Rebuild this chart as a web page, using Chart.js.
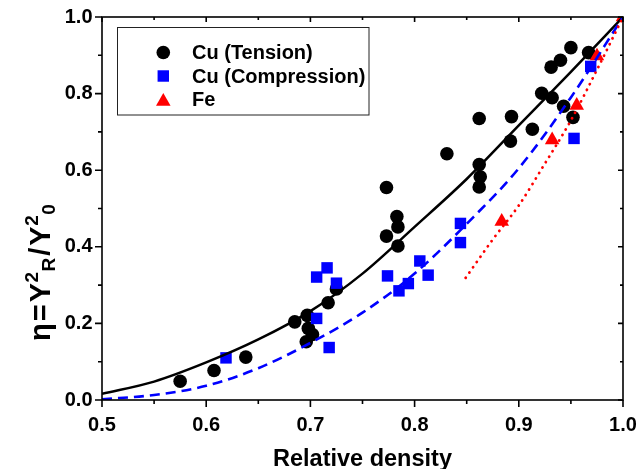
<!DOCTYPE html>
<html><head><meta charset="utf-8">
<script src="https://cdn.jsdelivr.net/npm/chart.js@4.4.0/dist/chart.umd.min.js"></script>
<style>html,body{margin:0;padding:0;background:#fff;}</style>
</head><body>
<canvas id="c" width="644" height="469"></canvas>
<script>
// ---- data ----
const tensionX = [0.575,0.6075,0.638,0.685,0.697,0.698,0.702,0.696,0.717,0.725,0.773,0.783,0.784,0.773,0.784,0.831,0.862,0.862,0.863,0.862,0.893,0.892,0.913,0.922,0.932,0.943,0.952,0.931,0.940,0.950,0.967];
const tensionY = [0.049,0.077,0.112,0.204,0.221,0.187,0.171,0.152,0.254,0.290,0.555,0.479,0.452,0.428,0.402,0.643,0.735,0.615,0.583,0.556,0.740,0.676,0.707,0.801,0.789,0.767,0.738,0.869,0.887,0.920,0.907];
const compX = [0.619,0.706,0.718,0.706,0.716,0.725,0.774,0.785,0.794,0.805,0.813,0.844,0.844,0.953,0.969];
const compY = [0.110,0.213,0.137,0.321,0.345,0.305,0.324,0.285,0.304,0.363,0.326,0.461,0.411,0.683,0.871];
const feX = [0.8836,0.932,0.9556,0.975,1.0];
const feY = [0.466,0.679,0.769,0.898,1.0];
// fitted curves
const fitTensionX = [0.5,0.55,0.6,0.65,0.7,0.75,0.8,0.85,0.9,0.95,1.0];
const fitTensionY = [0.016,0.048,0.098,0.158,0.232,0.330,0.452,0.577,0.717,0.857,1.0];
const fitCompX = [0.5,0.55,0.6,0.65,0.7,0.75,0.8,0.85,0.9,0.95,1.0];
const fitCompY = [0.002,0.013,0.037,0.083,0.149,0.228,0.330,0.460,0.605,0.790,1.0];
const fitFeX = [0.849,0.875,0.9,0.925,0.95,0.975,1.0];
const fitFeY = [0.319,0.419,0.508,0.617,0.730,0.862,1.0];
// ticks
const xMajorTicks = [0.5,0.6,0.7,0.8,0.9,1.0];
const xMinorTicks = [0.55,0.65,0.75,0.85,0.95];
const yMajorTicks = [0.0,0.2,0.4,0.6,0.8,1.0];
const yMinorTicks = [0.1,0.3,0.5,0.7,0.9];
const seriesNames = ['Cu (Tension)','Cu (Compression)','Fe'];
const xTitle = 'Relative density';

const pts = (xs, ys) => xs.map((x,i)=>({x:x, y:ys[i]}));
const FONT = '"Liberation Sans", Arial, sans-serif';

const framePlugin = {
  id:'frame',
  afterDraw(chart){
    const ctx = chart.ctx, xs = chart.scales.x, ys = chart.scales.y;
    const {left:L,right:R,top:T,bottom:B} = chart.chartArea;
    ctx.save();
    ctx.strokeStyle = '#000'; ctx.lineWidth = 1.6;
    ctx.strokeRect(L, T, R-L, B-T);
    ctx.beginPath();
    xMajorTicks.forEach(v=>{const p=xs.getPixelForValue(v); ctx.moveTo(p,B); ctx.lineTo(p,B+7); ctx.moveTo(p,T); ctx.lineTo(p,T+5);});
    xMinorTicks.forEach(v=>{const p=xs.getPixelForValue(v); ctx.moveTo(p,B); ctx.lineTo(p,B+4); ctx.moveTo(p,T); ctx.lineTo(p,T+3);});
    yMajorTicks.forEach(v=>{const p=ys.getPixelForValue(v); ctx.moveTo(L,p); ctx.lineTo(L-7,p); ctx.moveTo(R,p); ctx.lineTo(R-5,p);});
    yMinorTicks.forEach(v=>{const p=ys.getPixelForValue(v); ctx.moveTo(L,p); ctx.lineTo(L-4,p); ctx.moveTo(R,p); ctx.lineTo(R-3,p);});
    ctx.stroke();

    // x title
    ctx.fillStyle = '#000';
    ctx.font = 'bold 23.5px ' + FONT;
    ctx.textAlign = 'center'; ctx.textBaseline = 'alphabetic';
    ctx.fillText(xTitle, (L+R)/2, 465.5);

    // y title  η=Y²R/Y²0 (rotated)
    ctx.translate(50, 341); ctx.rotate(-Math.PI/2);
    ctx.textAlign = 'left';
    const big = 'bold 29px ' + FONT, small = 'bold 19px ' + FONT;
    let u = 0;
    const put = (t, f, dy) => { ctx.font = f; ctx.fillText(t, u, dy); return ctx.measureText(t).width; };
    u += put('η', big, 0) + 2;
    u += put('=', big, 0) + 2;
    u += put('Y', big, 0) + 0.5;
    u += put('2', small, -12) + 0.5;
    u += put('R', small, 5) + 2;
    u += put('/', big, 0) + 2;
    u += put('Y', big, 0) + 0.5;
    u += put('2', small, -12) + 0.5;
    u += put('0', small, 5);
    ctx.restore();

    // legend
    ctx.save();
    ctx.strokeStyle = '#222'; ctx.lineWidth = 1;
    ctx.strokeRect(117.5, 27.5, 251.5, 87.5);
    const rows = [52.5, 76, 99.5];
    [0,1,2].forEach(i=>{
      const ds = chart.data.datasets[i];
      ctx.fillStyle = ds.backgroundColor;
      ctx.strokeStyle = ds.backgroundColor;
      Chart.helpers.drawPoint(ctx, {pointStyle: ds.pointStyle, radius: ds.pointRadius, borderWidth: 0}, 163.3, rows[i] + (ds.pointStyle==='triangle'?2:0));
    });
    ctx.fillStyle = '#000';
    ctx.font = 'bold 20px ' + FONT; ctx.textAlign='left'; ctx.textBaseline='middle';
    seriesNames.forEach((n,i)=>ctx.fillText(n, 192, rows[i]+1));
    ctx.restore();
  }
};

const noPad = s => { s.paddingLeft = 0; s.paddingRight = 0; s.paddingTop = 0; s.paddingBottom = 0; };

new Chart(document.getElementById('c'), {
  type:'scatter',
  data:{ datasets:[
    {label:seriesNames[0], data:pts(tensionX,tensionY), pointStyle:'circle', pointRadius:6.8, backgroundColor:'#000', borderColor:'#000', borderWidth:0, order:6, clip:0},
    {label:seriesNames[1], data:pts(compX,compY), pointStyle:'rect', pointRadius:8.1, backgroundColor:'#0000ff', borderColor:'#0000ff', borderWidth:0, order:5, clip:0},
    {label:seriesNames[2], data:pts(feX,feY), pointStyle:'triangle', pointRadius:8.4, backgroundColor:'#ff0000', borderColor:'#ff0000', borderWidth:0, order:4, clip:0},
    {label:'fit1', data:pts(fitTensionX,fitTensionY), showLine:true, pointRadius:0, borderColor:'#000', borderWidth:2.5, cubicInterpolationMode:'monotone', order:3, clip:0},
    {label:'fit2', data:pts(fitCompX,fitCompY), showLine:true, pointRadius:0, borderColor:'#0000ff', borderWidth:2.6, borderDash:[10,6], cubicInterpolationMode:'monotone', order:2, clip:0},
    {label:'fit3', data:pts(fitFeX,fitFeY), showLine:true, pointRadius:0, borderColor:'#ff0000', borderWidth:2.8, borderDash:[0.1,6.3], borderCapStyle:'round', cubicInterpolationMode:'monotone', order:1, clip:0}
  ]},
  options:{
    responsive:false, animation:false, devicePixelRatio:1,
    layout:{padding:{top:17,right:21,left:0,bottom:0}},
    plugins:{legend:{display:false}, tooltip:{enabled:false}},
    scales:{
      x:{type:'linear', min:0.5, max:1.0,
        afterBuildTicks:s=>{s.ticks = xMajorTicks.map(v=>({value:v}));},
        afterFit:s=>{s.height=69; noPad(s);},
        grid:{display:false, drawTicks:false}, border:{display:false},
        ticks:{padding:13, color:'#000', font:{family:FONT, size:20, weight:'bold'}, callback:v=>v.toFixed(1), maxRotation:0, autoSkip:false}},
      y:{type:'linear', min:0, max:1.0,
        afterBuildTicks:s=>{s.ticks = yMajorTicks.map(v=>({value:v}));},
        afterFit:s=>{s.width=102; noPad(s);},
        grid:{display:false, drawTicks:false}, border:{display:false},
        ticks:{padding:9.5, color:'#000', font:{family:FONT, size:20, weight:'bold'}, callback:v=>v.toFixed(1), autoSkip:false}}
    }
  },
  plugins:[framePlugin]
});
</script>
</body></html>
